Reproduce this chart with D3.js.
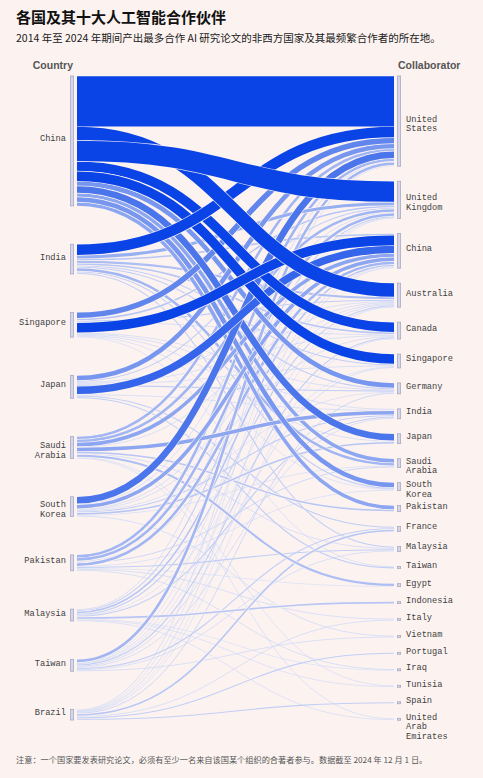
<!DOCTYPE html>
<html><head><meta charset="utf-8">
<script src="https://cdn.jsdelivr.net/npm/d3@7"></script>
<style>
html,body{margin:0;padding:0;background:#fcf3f1;}
svg{display:block;}
</style></head><body>
<svg id="chart" width="483" height="778"></svg>
<script>
// ---------- DATA ----------
const countries = ["China","India","Singapore","Japan","Saudi Arabia","South Korea","Pakistan","Malaysia","Taiwan","Brazil"];
const collaborators = ["United States","United Kingdom","China","Australia","Canada","Singapore","Germany","India","Japan","Saudi Arabia","South Korea","Pakistan","France","Malaysia","Taiwan","Egypt","Indonesia","Italy","Vietnam","Portugal","Iraq","Tunisia","Spain","United Arab Emirates"];

// each country's ten partners, in the stacking order used at the country's bar
const chinaLinks = [["United States",51],["Australia",14],["United Kingdom",21],["Canada",10],["Singapore",10],["Germany",5],["Japan",7],["Saudi Arabia",4],["South Korea",5],["Pakistan",4]];
const indiaLinks = [["United States",11],["United Kingdom",3.5],["China",2],["Australia",2.5],["Canada",2],["Singapore",1.5],["Germany",1.5],["Saudi Arabia",3],["South Korea",1.5],["Malaysia",1.5]];
const singaporeLinks = [["United States",6],["United Kingdom",2],["Australia",1.5],["Canada",1],["China",10],["Germany",1],["India",1],["Japan",1],["South Korea",0.75],["Taiwan",0.75]];
const japanLinks = [["United States",5],["United Kingdom",1.5],["Australia",1],["Canada",1],["Singapore",1],["Germany",1.5],["China",8],["India",1],["France",1.5],["Taiwan",1.5]];
const saudiLinks = [["United States",3],["United Kingdom",3],["China",4],["Australia",1],["India",4],["Pakistan",2],["Malaysia",1],["Egypt",2.5],["Tunisia",0.75],["United Arab Emirates",0.75]];
const koreaLinks = [["United States",7],["United Kingdom",1],["China",4],["Australia",1],["Canada",1],["Germany",0.75],["India",1.5],["Japan",2],["Saudi Arabia",0.75],["Vietnam",1]];
const pakistanLinks = [["United States",3],["United Kingdom",3],["Australia",1],["Saudi Arabia",1.25],["China",3],["South Korea",0.75],["Malaysia",1.5],["Egypt",0.5],["Italy",1],["Iraq",1]];
const malaysiaLinks = [["United States",1],["United Kingdom",1.5],["China",2],["Australia",1.5],["Singapore",0.5],["India",1.5],["Indonesia",2],["Iraq",0.5],["Tunisia",0.75],["United Arab Emirates",0.75]];
const taiwanLinks = [["United States",3],["United Kingdom",0.5],["China",1],["Australia",0.5],["Canada",1.5],["Singapore",1],["India",1],["France",1.5],["Malaysia",1],["Vietnam",1]];
const brazilLinks = [["United States",1],["United Kingdom",0.5],["China",1],["Australia",0.25],["Canada",0.5],["Germany",1.25],["France",2],["Italy",1],["Portugal",1.5],["Spain",1.5]];
const linksByCountry = [chinaLinks,indiaLinks,singaporeLinks,japanLinks,saudiLinks,koreaLinks,pakistanLinks,malaysiaLinks,taiwanLinks,brazilLinks];

const titleText = "各国及其十大人工智能合作伙伴";
const subtitleText = "2014 年至 2024 年期间产出最多合作 AI 研究论文的非西方国家及其最频繁合作者的所在地。";
const noteText = "注意：一个国家要发表研究论文，必须有至少一名来自该国某个组织的合著者参与。数据截至 2024 年 12 月 1 日。";

// ---------- LAYOUT ----------
const svg = d3.select("#chart");
const bg = "#fcf3f1";
const topY = 76, botY = 720;
const leftNodeX = 70, rightNodeX = 397, nodeW = 4;
const linkX0 = 77, linkX1 = 394;
const rightPad = 15;

const links = [];
countries.forEach((c, i) => linksByCountry[i].forEach(([t, v], k) => links.push({source: c, target: t, value: v, order: k})));
const total = d3.sum(links, d => d.value);
const srcTot = d3.rollup(links, v => d3.sum(v, d => d.value), d => d.source);
const tgtTot = d3.rollup(links, v => d3.sum(v, d => d.value), d => d.target);

const ky = d3.scaleLinear().domain([0, total]).range([0, (botY - topY) - (collaborators.length - 1) * rightPad]);
const leftPad = ((botY - topY) - ky(total)) / (countries.length - 1);

const leftNodes = [], rightNodes = [];
let y = topY;
countries.forEach(c => { const h = ky(srcTot.get(c)); leftNodes.push({name: c, y0: y, y1: y + h}); y += h + leftPad; });
y = topY;
collaborators.forEach(c => { const h = ky(tgtTot.get(c) || 0); rightNodes.push({name: c, y0: y, y1: y + h}); y += h + rightPad; });
const L = new Map(leftNodes.map(n => [n.name, n]));
const R = new Map(rightNodes.map(n => [n.name, n]));
const sIdx = new Map(countries.map((c, i) => [c, i]));

countries.forEach(c => {
  let yy = L.get(c).y0;
  links.filter(l => l.source === c).sort((a, b) => a.order - b.order)
    .forEach(l => { l.w = ky(l.value); l.sy = yy + l.w / 2; yy += l.w; });
});
collaborators.forEach(c => {
  let yy = R.get(c).y0;
  links.filter(l => l.target === c).sort((a, b) => sIdx.get(a.source) - sIdx.get(b.source))
    .forEach(l => { l.ty = yy + ky(l.value) / 2; yy += ky(l.value); });
});

const color = d3.scaleLinear().domain([0, 10]).range(["#e2e7f8", "#0a44e6"]).clamp(true);
const linkPath = l => {
  const xm = (linkX0 + linkX1) / 2;
  return `M${linkX0},${l.sy}C${xm},${l.sy} ${xm},${l.ty} ${linkX1},${l.ty}`;
};

const gLinks = svg.append("g").attr("fill", "none");
links.slice().sort((a, b) => a.value - b.value).forEach(l => {
  if (l.value >= 2) {
    gLinks.append("path").attr("d", linkPath(l)).attr("stroke", bg)
      .attr("stroke-width", l.w + 1).attr("stroke-opacity", 0.9);
  }
  gLinks.append("path").attr("d", linkPath(l)).attr("stroke", color(l.value))
    .attr("stroke-width", Math.max(0.7, l.w - 0.4));
});

// nodes
const nodeG = svg.append("g");
const drawNode = (n, x) => {
  const h = Math.max(2, n.y1 - n.y0);
  const cy = (n.y0 + n.y1) / 2;
  nodeG.append("rect").attr("x", x + 0.4).attr("y", cy - h / 2).attr("width", nodeW - 0.8).attr("height", h)
    .attr("fill", "#d6d6ea").attr("stroke", "#a9aac6").attr("stroke-width", 0.8);
};
leftNodes.forEach(n => drawNode(n, leftNodeX));
rightNodes.forEach(n => drawNode(n, rightNodeX));

const splitName = s => ({"Saudi Arabia": ["Saudi","Arabia"], "South Korea": ["South","Korea"], "United States": ["United","States"], "United Kingdom": ["United","Kingdom"], "United Arab Emirates": ["United","Arab","Emirates"]}[s] || [s]);
const drawLabel = (n, x, anchor) => {
  const cy = (n.y0 + n.y1) / 2;
  const t = svg.append("text").attr("x", x).attr("y", cy + 0.5).attr("text-anchor", anchor)
    .attr("font-family", "'Liberation Mono', 'DejaVu Sans Mono', monospace").attr("font-size", 8.7).attr("fill", "#3f3f3f");
  splitName(n.name).forEach((line, i) => t.append("tspan").attr("x", x).attr("dy", i === 0 ? 0 : 9.7).text(line));
};
leftNodes.forEach(n => drawLabel(n, 66, "end"));
rightNodes.forEach(n => drawLabel(n, 406, "start"));

// headers
svg.append("text").attr("x", 73).attr("y", 69).attr("text-anchor", "end")
  .attr("font-family", "'Liberation Sans', Arial, sans-serif").attr("font-weight", "bold").attr("font-size", 10.5).attr("fill", "#555").text("Country");
svg.append("text").attr("x", 398).attr("y", 69).attr("text-anchor", "start")
  .attr("font-family", "'Liberation Sans', Arial, sans-serif").attr("font-weight", "bold").attr("font-size", 10.5).attr("fill", "#555").text("Collaborator");

// titles
const cjk = "'Noto Sans CJK SC', 'Noto Sans', sans-serif";
svg.append("text").attr("x", 16).attr("y", 22.5).attr("font-family", cjk).attr("font-weight", "bold").attr("font-size", 15).attr("fill", "#111").text(titleText);
svg.append("text").attr("x", 16).attr("y", 41.5).attr("font-family", cjk).attr("font-size", 10.5).attr("fill", "#1a1a1a").text(subtitleText);
svg.append("text").attr("x", 16).attr("y", 763).attr("font-family", cjk).attr("font-size", 8.2).attr("fill", "#555").text(noteText);
</script>
</body></html>
